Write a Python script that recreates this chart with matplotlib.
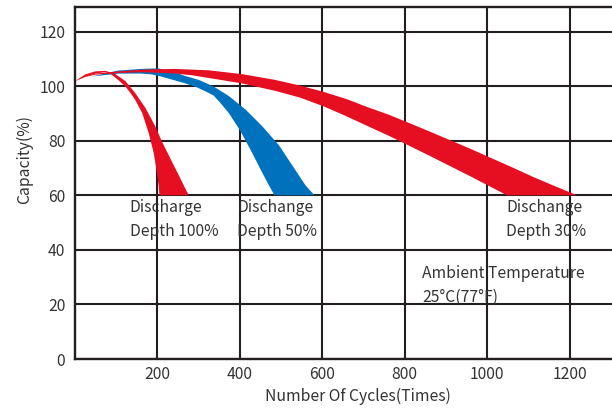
import numpy as np
import matplotlib
matplotlib.use('Agg')
import matplotlib.pyplot as plt

plt.rcParams['font.family'] = ['Noto Sans CJK SC', 'DejaVu Sans']

# band edges (cycles, capacity %)
d100_outer_x = [0, 25, 49, 74, 98, 122, 146, 171, 195, 211, 235, 252, 265, 276]
d100_outer_y = [101.8, 104.3, 105.4, 105.6, 104.4, 101.9, 97.5, 92.0, 85.2, 79.7, 72.4, 67.3, 63.3, 60.0]
d100_inner_x = [0, 25, 49, 73, 86, 98, 110, 122, 134, 146, 163, 179, 191, 199, 203, 205]
d100_inner_y = [101.8, 103.4, 104.6, 105.1, 104.5, 103.1, 101.6, 99.9, 97.6, 95.0, 90.2, 82.8, 75.5, 68.1, 63.5, 60.0]

d50_outer_x = [40, 105, 160, 202, 243, 270, 300, 336, 374, 414, 455, 495, 527, 560, 572, 581]
d50_outer_y = [103.5, 105.7, 106.3, 106.5, 105.0, 103.6, 102.3, 99.9, 96.3, 91.4, 85.2, 78.3, 71.0, 63.5, 61.5, 60.0]
d50_inner_x = [40, 105, 160, 185, 202, 240, 270, 295, 315, 336, 352, 374, 402, 430, 455, 470, 484]
d50_inner_y = [103.5, 104.6, 104.6, 104.3, 103.8, 102.2, 100.9, 99.6, 98.2, 96.6, 94.0, 90.0, 83.4, 75.5, 68.1, 63.8, 60.0]

d30_upper_x = [0, 25, 50, 105, 160, 202, 243, 324, 405, 485, 546, 603, 660, 708, 760, 809, 860, 910, 960, 1006, 1060, 1112, 1165, 1218]
d30_upper_y = [101.8, 103.6, 104.6, 105.4, 106.0, 106.2, 106.3, 105.8, 104.4, 102.3, 100.2, 97.9, 95.2, 92.4, 89.6, 86.6, 83.4, 80.2, 77.0, 73.9, 70.3, 66.7, 63.3, 60.0]
d30_lower_x = [0, 25, 50, 105, 160, 202, 243, 283, 324, 405, 485, 546, 603, 655, 708, 760, 809, 860, 910, 960, 1006, 1048]
d30_lower_y = [101.8, 103.4, 104.2, 104.8, 105.1, 104.9, 104.6, 104.0, 103.0, 101.0, 98.3, 95.8, 92.6, 89.2, 85.5, 81.9, 78.3, 74.5, 70.7, 66.9, 63.3, 60.0]

x_ticks = [200, 400, 600, 800, 1000, 1200]
y_ticks = [0, 20, 40, 60, 80, 100, 120]

red = '#e60e21'
blue = '#0071bd'
ink = '#231f20'
txt = '#333333'

fig = plt.figure(figsize=(6.12, 4.11), dpi=100)
ax = fig.add_axes([0.1225, 0.1265, 0.8775, 0.8565])

ax.set_xlim(0, 1303)
ax.set_ylim(0, 129)
ax.set_xticks(x_ticks)
ax.set_yticks(y_ticks)
ax.grid(True, color=ink, linewidth=1.5, zorder=0)
ax.set_axisbelow(True)
ax.tick_params(length=0, labelsize=11.3, labelcolor=txt)
ax.tick_params(axis='x', pad=5)
ax.tick_params(axis='y', pad=7)
for s in ['left', 'bottom', 'top']:
    ax.spines[s].set_linewidth(1.7)
    ax.spines[s].set_color(ink)
ax.spines['right'].set_visible(False)

def band(ox, oy, ix, iy, color):
    xs = list(ox) + list(ix)[::-1]
    ys = list(oy) + list(iy)[::-1]
    ax.fill(xs, ys, color=color, lw=0, zorder=2)

band(d50_outer_x, d50_outer_y, d50_inner_x, d50_inner_y, blue)
band(d30_upper_x, d30_upper_y, d30_lower_x, d30_lower_y, red)
band(d100_outer_x, d100_outer_y, d100_inner_x, d100_inner_y, red)

ax.set_xlabel('Number Of Cycles(Times)', fontsize=11.3, color=txt)
ax.set_ylabel('Capacity(%)', fontsize=11.3, color=txt)
ax.xaxis.set_label_coords(0.527, -0.083)
ax.yaxis.set_label_coords(-0.078, 0.568)

kw = dict(fontsize=11.3, color=txt, va='top', ha='left', linespacing=1.5, zorder=3)
ax.text(133, 58.5, 'Discharge\nDepth 100%', **kw)
ax.text(393, 58.5, 'Dischange\nDepth 50%', **kw)
ax.text(1046, 58.5, 'Dischange\nDepth 30%', **kw)
ax.text(842, 34.5, 'Ambient Temperature\n25°C(77°F)', **kw)

fig.savefig('out.png', dpi=100)
